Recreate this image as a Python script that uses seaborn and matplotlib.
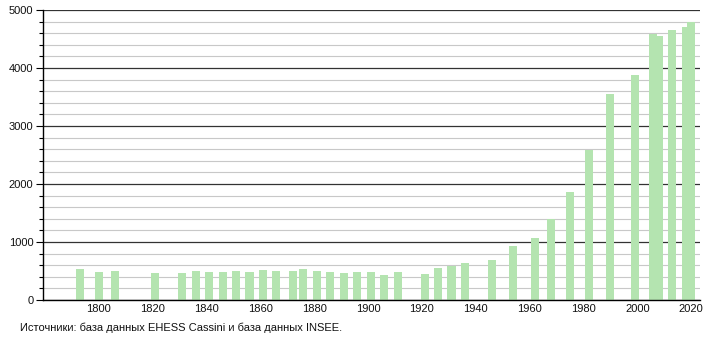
import matplotlib
matplotlib.use("Agg")
import matplotlib.pyplot as plt
import seaborn as sns
import pandas as pd
from matplotlib.ticker import MultipleLocator

years = [1793, 1800, 1806, 1821, 1831, 1836, 1841, 1846, 1851, 1856, 1861, 1866,
         1872, 1876, 1881, 1886, 1891, 1896, 1901, 1906, 1911, 1921, 1926, 1931,
         1936, 1946, 1954, 1962, 1968, 1975, 1982, 1990, 1999, 2006, 2008, 2013,
         2018, 2020]
population = [534, 488, 505, 471, 471, 505, 488, 488, 505, 488, 517, 505,
              505, 540, 505, 488, 466, 488, 488, 437, 488, 454, 557, 586,
              644, 695, 931, 1075, 1391, 1862, 2580, 3552, 3879, 4580, 4557, 4655,
              4712, 4788]
x_ticks = [1800, 1820, 1840, 1860, 1880, 1900, 1920, 1940, 1960, 1980, 2000, 2020]
source_text = "Источники: база данных EHESS Cassini и база данных INSEE."

df = pd.DataFrame({"year": years, "pop": population})

sns.set_theme(style="white")
plt.rcParams["font.family"] = ["Liberation Sans", "DejaVu Sans"]

fig = plt.figure(figsize=(7.1, 3.4), dpi=100)
ax = fig.add_axes([43/710, 40/340, 657/710, 290/340])

bar_color = "#b4e4b0"
sns.barplot(data=df, x="year", y="pop", native_scale=True, width=1.5,
            color=bar_color, saturation=1, linewidth=0, errorbar=None,
            zorder=2, ax=ax)

ax.set_xlim(1779.3, 2023.3)
ax.set_ylim(0, 5000)
ax.yaxis.set_major_locator(MultipleLocator(1000))
ax.yaxis.set_minor_locator(MultipleLocator(200))
ax.set_xticks(x_ticks)
ax.set_xticklabels([str(t) for t in x_ticks])
ax.grid(which="minor", axis="y", color="#c8c8c8", linewidth=0.8, zorder=1)
ax.grid(which="major", axis="y", color="#333333", linewidth=0.9, zorder=1)
ax.grid(False, axis="x")
ax.set_axisbelow(True)

for s in ["top", "right"]:
    ax.spines[s].set_visible(False)
ax.spines["left"].set_color("black")
ax.spines["bottom"].set_color("black")
ax.spines["left"].set_linewidth(1)
ax.spines["bottom"].set_linewidth(1)

ax.tick_params(axis="y", which="major", length=5, width=0.8, color="black",
               left=True, labelsize=8, pad=2, labelcolor="#111111")
ax.tick_params(axis="y", which="minor", length=3, width=0.8, color="black", left=True)
ax.tick_params(axis="x", which="both", length=0, labelsize=8, pad=3, labelcolor="#111111")
ax.set_xlabel("")
ax.set_ylabel("")

fig.text(20/710, 1 - 328/340, source_text, fontsize=8, va="center", ha="left", color="#111111")

fig.savefig("out.png", dpi=100)
